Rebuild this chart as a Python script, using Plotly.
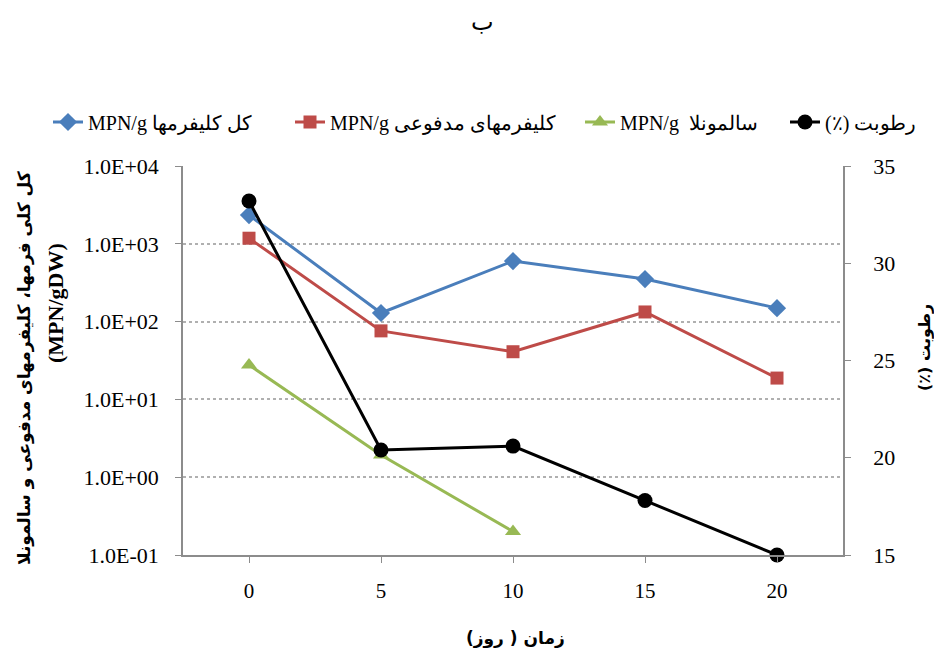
import plotly.graph_objects as go

days = [0, 5, 10, 15, 20]
total_coliform = [2340, 129, 600, 352, 149]
fecal_coliform = [1180, 76, 41, 133, 18.8]
salmonella_days = [0, 5, 10]
salmonella = [27.7, 1.93, 0.2]
moisture = [33.2, 20.4, 20.6, 17.8, 15.0]

left_tickvals = [0.1, 1, 10, 100, 1000, 10000]
left_ticktext = ["1.0E-01", "1.0E+00", "1.0E+01", "1.0E+02", "1.0E+03", "1.0E+04"]
right_tickvals = [15, 20, 25, 30, 35]

names = ["MPN/g کل کلیفرمها", "MPN/g کلیفرمهای مدفوعی", "MPN/g  سالمونلا", "(٪) رطوبت"]

SERIF = "Liberation Serif, Times New Roman, DejaVu Serif, serif"
AR = "DejaVu Sans, Noto Sans, sans-serif"

# page offset (body margin) compensation
OFF = 8
PL, PR, PT, PB = 183, 843, 166, 555
PW, PH = PR - PL, PB - PT


def px(xp):
    return (xp - PL) / PW


def py(yp):
    return (PB - yp) / PH


fig = go.Figure()
fig.add_trace(go.Scatter(x=days, y=total_coliform, name=names[0], mode="lines+markers",
                         line=dict(color="#4A7EBB", width=3), legend="legend",
                         marker=dict(symbol="diamond", size=14, color="#4A7EBB")))
fig.add_trace(go.Scatter(x=days, y=fecal_coliform, name=names[1], mode="lines+markers",
                         line=dict(color="#BE4B48", width=3), legend="legend2",
                         marker=dict(symbol="square", size=13, color="#BE4B48")))
fig.add_trace(go.Scatter(x=salmonella_days, y=salmonella, name=names[2], mode="lines+markers",
                         line=dict(color="#98B954", width=3), legend="legend3",
                         marker=dict(symbol="triangle-up", size=14, color="#98B954")))
fig.add_trace(go.Scatter(x=days, y=moisture, name=names[3], mode="lines+markers", yaxis="y2",
                         line=dict(color="#000000", width=3), legend="legend4",
                         marker=dict(symbol="circle", size=15, color="#000000"),
                         cliponaxis=False))

leg_common = dict(orientation="h", yanchor="middle", xanchor="left", y=py(122),
                  font=dict(family=SERIF, size=20), bgcolor="rgba(0,0,0,0)",
                  borderwidth=0, itemwidth=30)

fig.update_layout(
    width=942 - 2 * OFF, height=658 - 2 * OFF,
    margin=dict(l=PL - OFF, r=942 - OFF - PR, t=PT - OFF, b=658 - OFF - PB),
    paper_bgcolor="white", plot_bgcolor="white",
    font=dict(family=SERIF, size=21, color="black"),
    showlegend=True,
    legend=dict(leg_common, x=px(48)),
    legend2=dict(leg_common, x=px(290)),
    legend3=dict(leg_common, x=px(580)),
    legend4=dict(leg_common, x=px(785)),
    xaxis=dict(range=[-2.5, 22.5], tickvals=days, ticktext=[str(d) for d in days],
               showgrid=False, zeroline=False, showline=True, linecolor="#8c8c8c", linewidth=1.5,
               ticks="outside", ticklen=6, tickcolor="#8c8c8c", tickfont=dict(size=21),
               ticklabelstandoff=10),
    yaxis=dict(type="log", range=[-1, 4], tickvals=left_tickvals, ticktext=left_ticktext,
               showgrid=True, gridcolor="#b0b0b0", griddash="dot", gridwidth=1.5,
               zeroline=False, showline=True, linecolor="#8c8c8c", linewidth=1.5,
               ticks="outside", ticklen=6, tickcolor="#8c8c8c", tickfont=dict(size=22),
               ticklabelstandoff=12),
    yaxis2=dict(overlaying="y", side="right", range=[15, 35], tickvals=right_tickvals,
                showgrid=False, zeroline=False, showline=True, linecolor="#8c8c8c", linewidth=1.5,
                ticks="outside", ticklen=6, tickcolor="#8c8c8c", tickfont=dict(size=22),
                ticklabelstandoff=18),
)

fig.add_annotation(text="ب", xref="paper", yref="paper", x=px(482), y=py(22),
                   showarrow=False, font=dict(family=AR, size=24), xanchor="center", yanchor="middle")
fig.add_annotation(text="<b>زمان ( روز)</b>", xref="paper", yref="paper", x=px(515),
                   y=py(638), showarrow=False, font=dict(family=AR, size=17),
                   xanchor="center", yanchor="middle")
fig.add_annotation(text="<b>کل کلی فرمها، کلیفرمهای مدفوعی و سالمونلا</b>",
                   xref="paper", yref="paper", x=px(24), y=py(368),
                   showarrow=False, textangle=-90, font=dict(family=AR, size=17),
                   xanchor="center", yanchor="middle")
fig.add_annotation(text="<b>(MPN/gDW)</b>",
                   xref="paper", yref="paper", x=px(55), y=py(303),
                   showarrow=False, textangle=-90, font=dict(family=SERIF, size=22),
                   xanchor="center", yanchor="middle")
fig.add_annotation(text="<b>(٪) رطوبت</b>", xref="paper", yref="paper", x=px(924),
                   y=py(348), showarrow=False, textangle=-90,
                   font=dict(family=AR, size=16), xanchor="center", yanchor="middle")

fig.write_html("out.html")
